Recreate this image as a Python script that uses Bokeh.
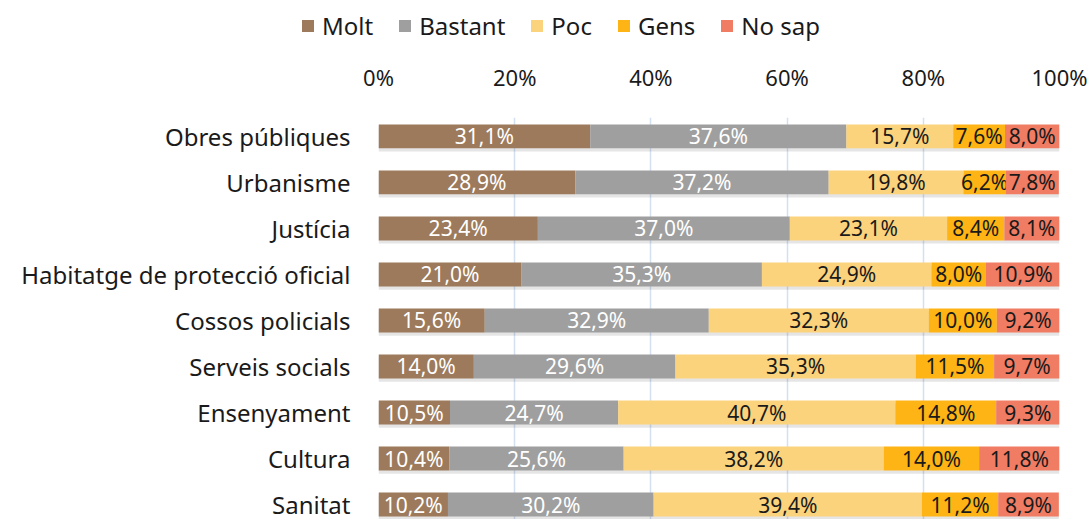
import numpy as np
from bokeh.plotting import figure
from bokeh.models import (ColumnDataSource, Range1d, FixedTicker, Legend, LegendItem,
                          PrintfTickFormatter)
from bokeh.transform import dodge
from bokeh.core.properties import value
from bokeh.embed import file_html
from bokeh.resources import INLINE

categories = ["Obres públiques", "Urbanisme", "Justícia", "Habitatge de protecció oficial",
              "Cossos policials", "Serveis socials", "Ensenyament", "Cultura", "Sanitat"]
series = ["Molt", "Bastant", "Poc", "Gens", "No sap"]
molt = [31.1, 28.9, 23.4, 21.0, 15.6, 14.0, 10.5, 10.4, 10.2]
bastant = [37.6, 37.2, 37.0, 35.3, 32.9, 29.6, 24.7, 25.6, 30.2]
poc = [15.7, 19.8, 23.1, 24.9, 32.3, 35.3, 40.7, 38.2, 39.4]
gens = [7.6, 6.2, 8.4, 8.0, 10.0, 11.5, 14.8, 14.0, 11.2]
no_sap = [8.0, 7.8, 8.1, 10.9, 9.2, 9.7, 9.3, 11.8, 8.9]
x_ticks = [0, 20, 40, 60, 80, 100]

colors = ["#9c7a5b", "#9f9f9f", "#fbd37c", "#fdb414", "#f07c64"]
label_colors = ["white", "white", "#1a1a1a", "#1a1a1a", "#1a1a1a"]
FONT = "Noto Sans"

vals = [molt, bastant, poc, gens, no_sap]
ypos = list(range(len(categories)))

# ---- legend strip (separate root, its swatch renderers lie outside its visible range) ----
LEG_H = 58
pl = figure(width=1092, height=LEG_H, output_backend="svg", toolbar_location=None,
            x_range=Range1d(0, 100), y_range=Range1d(100, 101),
            x_axis_type=None, y_axis_type=None,
            min_border_left=0, min_border_right=0, min_border_top=0, min_border_bottom=0)
pl.outline_line_color = None
pl.xgrid.grid_line_color = None
pl.ygrid.grid_line_color = None

# ---- main chart ----
p = figure(frame_width=681, frame_height=405, output_backend="svg", toolbar_location=None,
           x_range=Range1d(0, 100), y_range=Range1d(8.39, -0.41),
           x_axis_location="above", min_border_left=378, min_border_right=33,
           min_border_bottom=0, min_border_top=114 - LEG_H)
p.outline_line_color = None

# shadow under bars
shadow = ColumnDataSource(dict(y=ypos, left=[0] * 9, right=[sum(v[i] for v in vals) for i in ypos]))
p.hbar(y=dodge("y", 0.07), left="left", right="right", height=0.52, source=shadow,
       fill_color="#000000", fill_alpha=0.10, line_color=None)

items = []
cum = np.zeros(len(categories))
for s, v, c, lc in zip(series, vals, colors, label_colors):
    v = np.array(v)
    left = cum.copy()
    right = cum + v
    src = ColumnDataSource(dict(y=ypos, left=left.tolist(), right=right.tolist(),
                                mid=((left + right) / 2).tolist(),
                                lab=[f"{x:.1f}%".replace(".", ",") for x in v]))
    p.hbar(y="y", left="left", right="right", height=0.52, source=src,
           fill_color=c, line_color=None)
    p.text(x="mid", y="y", text="lab", source=src, text_align="center", text_baseline="middle",
           text_color=lc, text_font=value(FONT), text_font_size="21px")
    r = pl.hbar(y="y", left="left", right="right", height=0.52, source=src,
                fill_color=c, line_color=None)
    items.append(LegendItem(label=s, renderers=[r]))
    cum = right

legend = Legend(items=items, orientation="horizontal", location=(300, 16),
                label_text_font=FONT, label_text_font_size="24px", label_text_color="#1a1a1a",
                glyph_width=15, glyph_height=15, label_standoff=7, spacing=24,
                padding=0, margin=0, border_line_color=None, background_fill_alpha=0)
pl.add_layout(legend, "center")

p.xaxis.ticker = FixedTicker(ticks=x_ticks)
p.xaxis.formatter = PrintfTickFormatter(format="%d%%")
p.xaxis.axis_line_color = None
p.xaxis.major_tick_line_color = None
p.xaxis.minor_tick_line_color = None
p.xaxis.major_label_text_font = FONT
p.xaxis.major_label_text_font_size = "22px"
p.xaxis.major_label_text_color = "#1a1a1a"
p.xaxis.major_label_standoff = 20

p.yaxis.ticker = FixedTicker(ticks=ypos)
p.yaxis.major_label_overrides = {i: c for i, c in zip(ypos, categories)}
p.yaxis.axis_line_color = None
p.yaxis.major_tick_line_color = None
p.yaxis.minor_tick_line_color = None
p.yaxis.major_label_text_font = FONT
p.yaxis.major_label_text_font_size = "24px"
p.yaxis.major_label_text_color = "#1a1a1a"
p.yaxis.major_label_standoff = 22

p.xgrid.ticker = FixedTicker(ticks=x_ticks)
p.xgrid.grid_line_color = "#d3e0f2"
p.xgrid.grid_line_width = 1.5
p.ygrid.grid_line_color = None

open("out.html", "w").write(file_html([pl, p], INLINE))
